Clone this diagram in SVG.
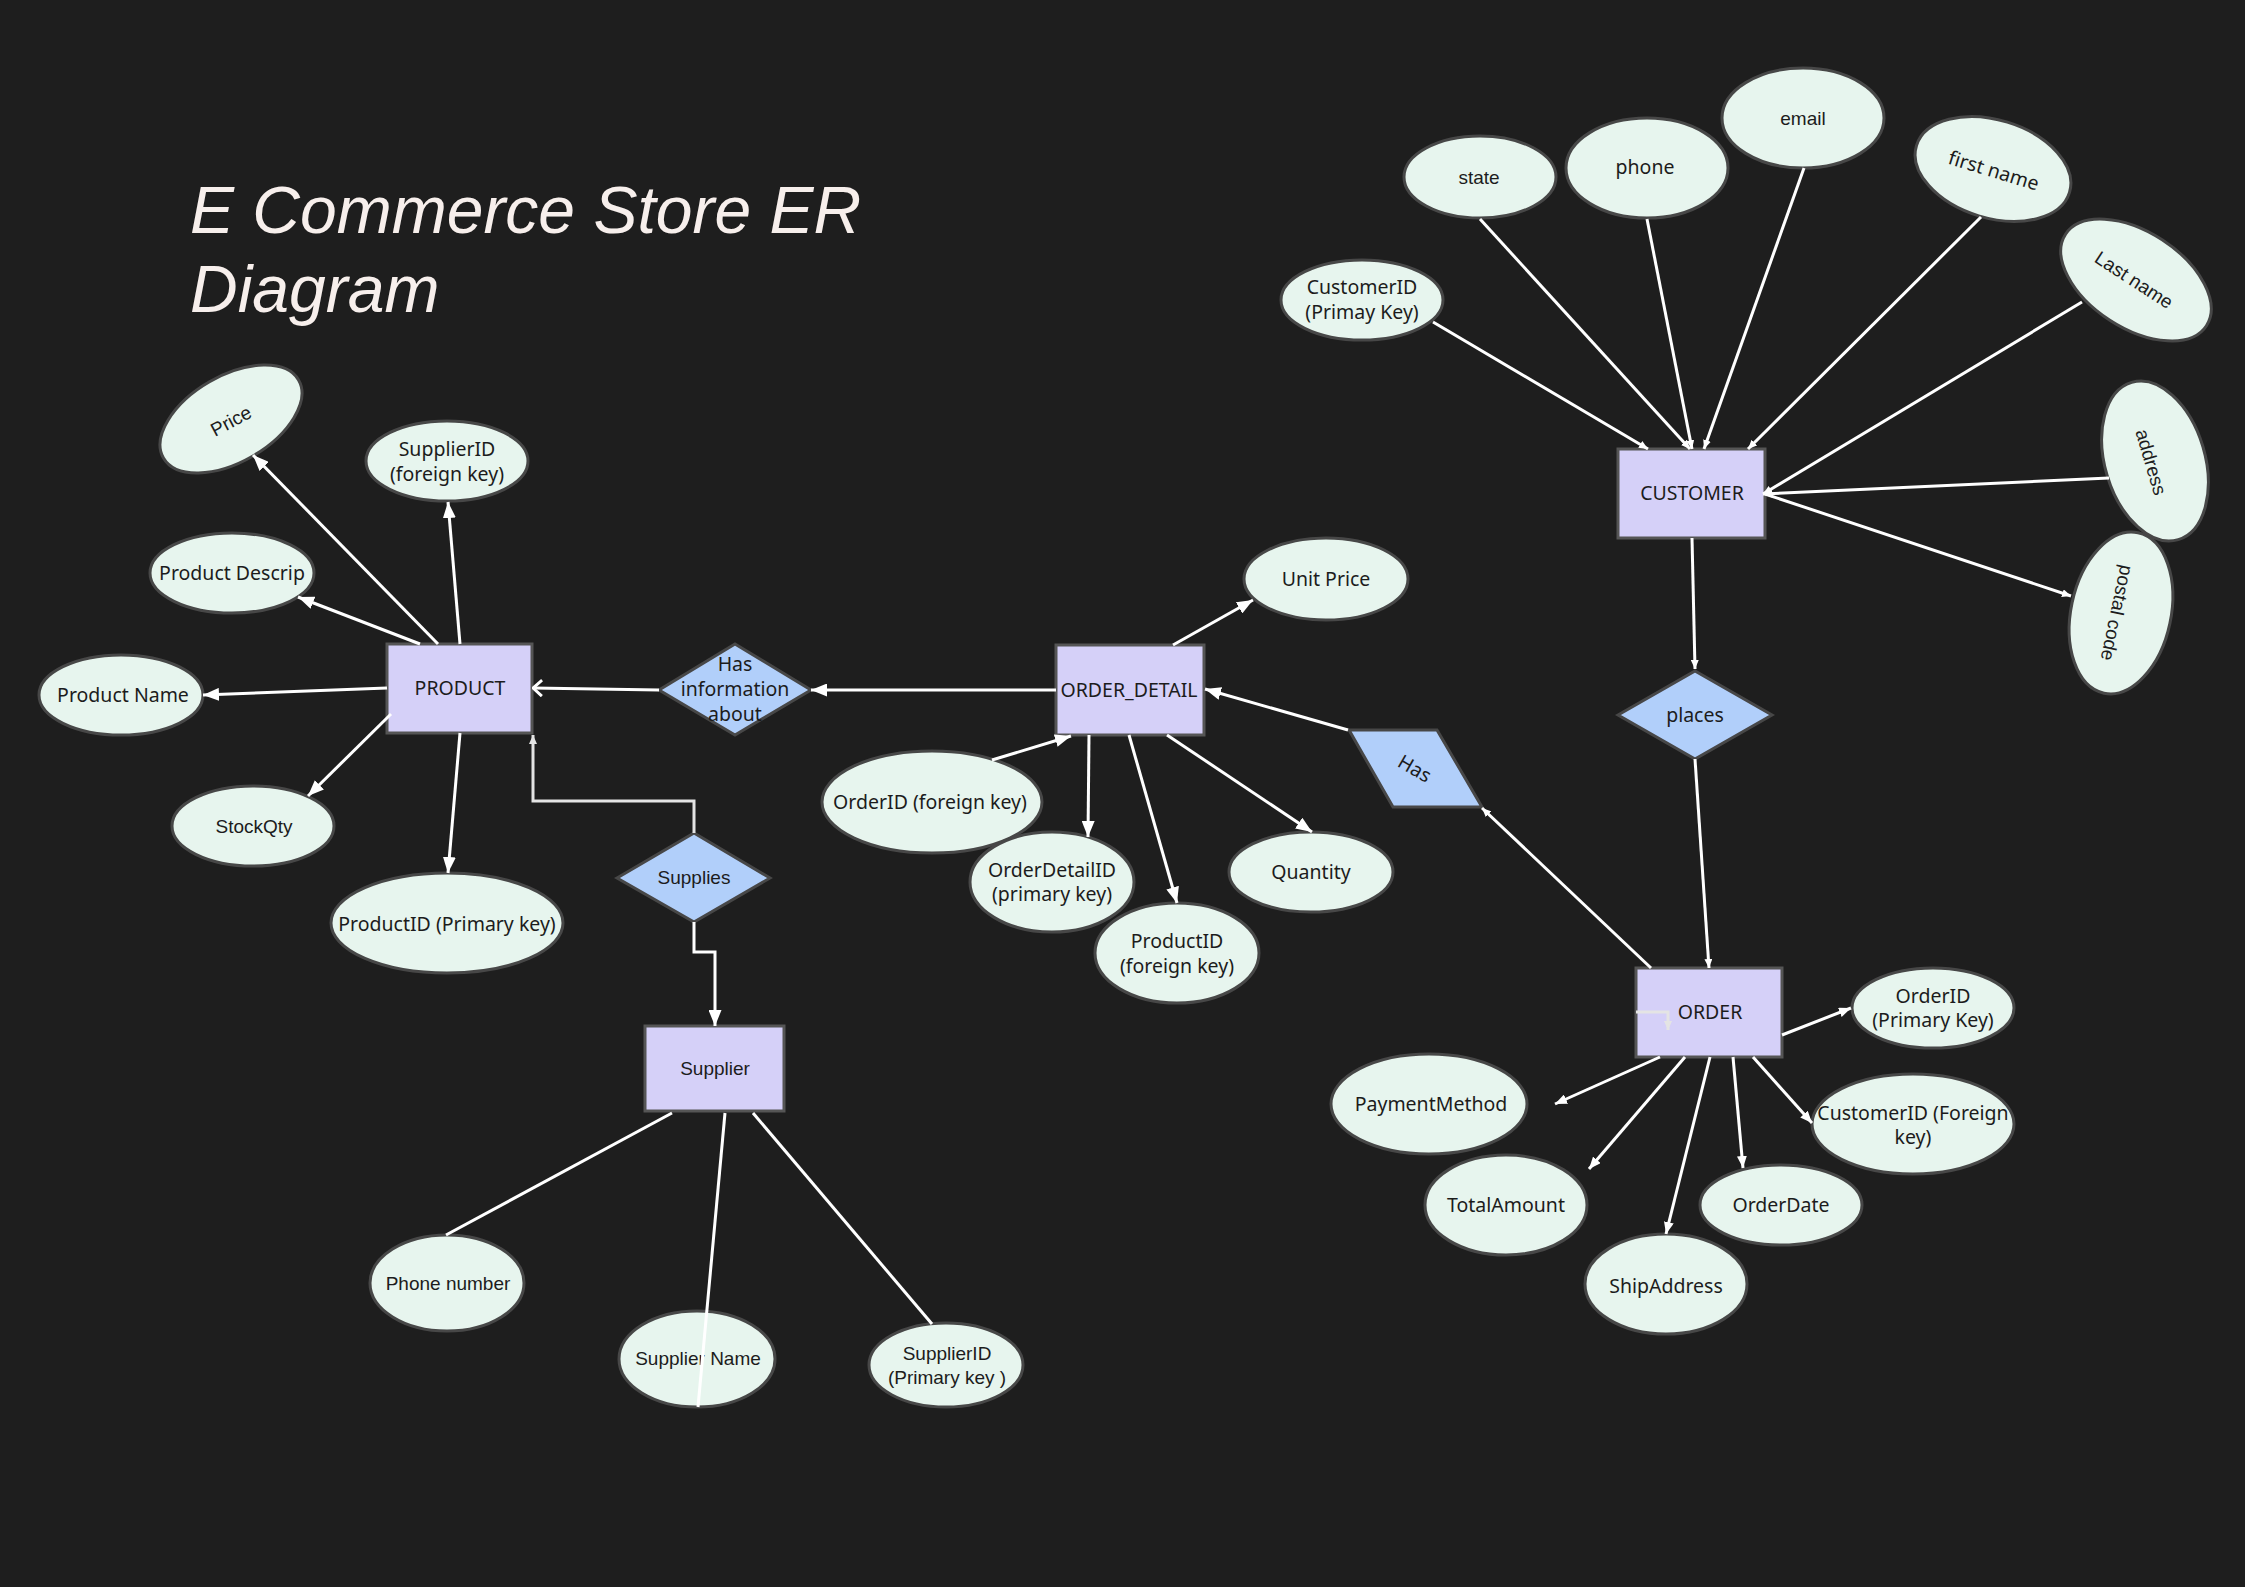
<svg xmlns="http://www.w3.org/2000/svg" width="2245" height="1587" viewBox="0 0 2245 1587">
<style>
.bg{fill:#1e1e1e}
.title{font-family:"Liberation Sans",Arial,sans-serif;font-style:italic;font-size:66px;fill:#f7efec}
.attr{fill:#e7f5ee;stroke:#474747;stroke-width:3}
.ent{fill:#d5d0f8;stroke:#555555;stroke-width:3}
.rel{fill:#b1cffa;stroke:#474747;stroke-width:3}
.t{font-family:"Noto Sans","Open Sans",sans-serif;font-size:19.5px;fill:#1c1c1c;text-anchor:middle;dominant-baseline:central}
.a{font-family:"Liberation Sans",Arial,sans-serif;font-size:19px;fill:#1c1c1c;text-anchor:middle;dominant-baseline:central}
#connectors line,#connectors path{stroke:#ffffff;stroke-width:3;fill:none}
#connectors .g{stroke:#e4e4e4}
</style>
<defs>
<marker id="aL" viewBox="0 0 16 13" refX="16" refY="6.5" markerWidth="16" markerHeight="13" orient="auto" markerUnits="userSpaceOnUse"><path d="M0,0 L16,6.5 L0,13 z" fill="#ffffff"/></marker>
<marker id="aM" viewBox="0 0 12 10" refX="12" refY="5" markerWidth="12" markerHeight="10" orient="auto" markerUnits="userSpaceOnUse"><path d="M0,0 L12,5 L0,10 z" fill="#ffffff"/></marker>
<marker id="aS" viewBox="0 0 9 8" refX="9" refY="4" markerWidth="9" markerHeight="8" orient="auto" markerUnits="userSpaceOnUse"><path d="M0,0 L9,4 L0,8 z" fill="#ffffff"/></marker>
<marker id="aG" viewBox="0 0 9 8" refX="9" refY="4" markerWidth="9" markerHeight="8" orient="auto" markerUnits="userSpaceOnUse"><path d="M0,0 L9,4 L0,8 z" fill="#e4e4e4"/></marker>
<marker id="aO" viewBox="0 0 11 18" refX="10" refY="9" markerWidth="11" markerHeight="18" orient="auto" markerUnits="userSpaceOnUse"><path d="M1,1 L10,9 L1,17" fill="none" stroke="#ffffff" stroke-width="3"/></marker>
</defs>
<rect class="bg" x="0" y="0" width="2245" height="1587"/>
<g id="title">
<text class="title" x="190" y="233">E Commerce Store ER</text>
<text class="title" x="190" y="312">Diagram</text>
</g>
<g id="entities">
<g id="product"><rect class="ent" x="387" y="644" width="145" height="89"/><text class="t" x="460" y="687">PRODUCT</text></g>
<g id="order_detail"><rect class="ent" x="1056" y="645" width="148" height="90"/><text class="t" x="1129" y="689">ORDER_DETAIL</text></g>
<g id="customer"><rect class="ent" x="1618" y="449" width="147" height="89"/><text class="t" x="1692" y="492">CUSTOMER</text></g>
<g id="order"><rect class="ent" x="1636" y="968" width="146" height="89"/><text class="t" x="1710" y="1011">ORDER</text></g>
<g id="supplier"><rect class="ent" x="645" y="1026" width="139" height="85"/><text class="a" x="715" y="1068">Supplier</text></g>
</g>
<g id="relationships">
<g id="has_information_about"><polygon class="rel" points="659,690 735,644 811,690 735,735"/><text class="t" x="735"><tspan x="735" y="663">Has</tspan><tspan x="735" y="688">information</tspan><tspan x="735" y="713">about</tspan></text></g>
<g id="supplies"><polygon class="rel" points="617,878 694,833 770,878 694,922"/><text class="a" x="694" y="877">Supplies</text></g>
<g id="places"><polygon class="rel" points="1618,715 1695,671 1772,715 1695,759"/><text class="t" x="1695" y="714">places</text></g>
<g id="has"><polygon class="rel" points="1349,730 1437,730 1482,807 1393,807"/><text class="t" transform="translate(1415,768) rotate(30)" x="0" y="0">Has</text></g>
</g>
<g id="attributes">
<g id="price"><ellipse class="attr" cx="0" cy="0" rx="78" ry="43" transform="translate(231,419) rotate(-30)"/><text class="a" transform="translate(231,421) rotate(-28)" x="0" y="0">Price</text></g>
<g id="supplierid_fk"><ellipse class="attr" cx="447" cy="461" rx="81" ry="40"/><text class="t"><tspan x="447" y="448">SupplierID</tspan><tspan x="447" y="473">(foreign key)</tspan></text></g>
<g id="product_descrip"><ellipse class="attr" cx="232" cy="573" rx="82" ry="40"/><text class="t" x="232" y="572">Product Descrip</text></g>
<g id="product_name"><ellipse class="attr" cx="121" cy="695" rx="82" ry="40"/><text class="t" x="123" y="694">Product Name</text></g>
<g id="stockqty"><ellipse class="attr" cx="253" cy="826" rx="81" ry="40"/><text class="a" x="254" y="826">StockQty</text></g>
<g id="productid_pk"><ellipse class="attr" cx="447" cy="923" rx="116" ry="50"/><text class="t" x="447" y="923">ProductID (Primary key)</text></g>
<g id="unit_price"><ellipse class="attr" cx="1326" cy="579" rx="82" ry="41"/><text class="t" x="1326" y="578">Unit Price</text></g>
<g id="orderid_fk"><ellipse class="attr" cx="932" cy="802" rx="110" ry="51"/><text class="t" x="930" y="801">OrderID (foreign key)</text></g>
<g id="orderdetailid_pk"><ellipse class="attr" cx="1052" cy="882" rx="82" ry="50"/><text class="t"><tspan x="1052" y="869">OrderDetailID</tspan><tspan x="1052" y="893">(primary key)</tspan></text></g>
<g id="productid_fk"><ellipse class="attr" cx="1177" cy="953" rx="82" ry="50"/><text class="t"><tspan x="1177" y="940">ProductID</tspan><tspan x="1177" y="965">(foreign key)</tspan></text></g>
<g id="quantity"><ellipse class="attr" cx="1311" cy="872" rx="82" ry="40"/><text class="t" x="1311" y="871">Quantity</text></g>
<g id="customerid_pk"><ellipse class="attr" cx="1362" cy="300" rx="81" ry="40"/><text class="t"><tspan x="1362" y="286">CustomerID</tspan><tspan x="1362" y="311">(Primay Key)</tspan></text></g>
<g id="state"><ellipse class="attr" cx="1480" cy="177" rx="76" ry="41"/><text class="a" x="1479" y="177">state</text></g>
<g id="phone"><ellipse class="attr" cx="1647" cy="168" rx="81" ry="50"/><text class="t" x="1645" y="166">phone</text></g>
<g id="email"><ellipse class="attr" cx="1803" cy="118" rx="81" ry="50"/><text class="a" x="1803" y="118">email</text></g>
<g id="first_name"><ellipse class="attr" cx="0" cy="0" rx="80" ry="49" transform="translate(1993,169) rotate(17)"/><text class="t" transform="translate(1994,170) rotate(17)" x="0" y="0">first name</text></g>
<g id="last_name"><ellipse class="attr" cx="0" cy="0" rx="84" ry="48" transform="translate(2136,280) rotate(33)"/><text class="a" transform="translate(2134,280) rotate(33)" x="0" y="0">Last name</text></g>
<g id="address"><ellipse class="attr" cx="0" cy="0" rx="82" ry="50" transform="translate(2155,461) rotate(73.5)"/><text class="a" transform="translate(2151,462) rotate(73.5)" x="0" y="0">address</text></g>
<g id="postal_code"><ellipse class="attr" cx="0" cy="0" rx="82" ry="50" transform="translate(2121,613) rotate(102)"/><text class="a" transform="translate(2117,613) rotate(102)" x="0" y="0">postal code</text></g>
<g id="orderid_pk"><ellipse class="attr" cx="1933" cy="1008" rx="81" ry="40"/><text class="t"><tspan x="1933" y="995">OrderID</tspan><tspan x="1933" y="1019">(Primary Key)</tspan></text></g>
<g id="customerid_fk"><ellipse class="attr" cx="1913" cy="1124" rx="101" ry="50"/><text class="t"><tspan x="1913" y="1112">CustomerID (Foreign</tspan><tspan x="1913" y="1136">key)</tspan></text></g>
<g id="orderdate"><ellipse class="attr" cx="1781" cy="1205" rx="81" ry="40"/><text class="t" x="1781" y="1204">OrderDate</text></g>
<g id="shipaddress"><ellipse class="attr" cx="1666" cy="1284" rx="81" ry="50"/><text class="t" x="1666" y="1285">ShipAddress</text></g>
<g id="totalamount"><ellipse class="attr" cx="1506" cy="1205" rx="81" ry="50"/><text class="t" x="1506" y="1204">TotalAmount</text></g>
<g id="paymentmethod"><ellipse class="attr" cx="1429" cy="1104" rx="98" ry="50"/><text class="t" x="1431" y="1103">PaymentMethod</text></g>
<g id="phone_number"><ellipse class="attr" cx="447" cy="1283" rx="77" ry="48"/><text class="a" x="448" y="1283">Phone number</text></g>
<g id="supplier_name"><ellipse class="attr" cx="697" cy="1359" rx="78" ry="48"/><text class="a" x="698" y="1358">Supplier Name</text></g>
<g id="supplierid_pk"><ellipse class="attr" cx="946" cy="1365" rx="77" ry="42"/><text class="a"><tspan x="947" y="1353">SupplierID</tspan><tspan x="947" y="1377">(Primary key )</tspan></text></g>
</g>
<g id="connectors">
<line x1="438" y1="644" x2="253" y2="455" marker-end="url(#aL)"/>
<line x1="460" y1="644" x2="448" y2="502" marker-end="url(#aL)"/>
<line x1="420" y1="644" x2="298" y2="597" marker-end="url(#aL)"/>
<line x1="387" y1="688" x2="203" y2="695" marker-end="url(#aL)"/>
<line x1="391" y1="714" x2="308" y2="796" marker-end="url(#aL)"/>
<line x1="460" y1="733" x2="448" y2="873" marker-end="url(#aL)"/>
<line x1="659" y1="690" x2="533" y2="688" marker-end="url(#aO)"/>
<line x1="1056" y1="690" x2="811" y2="690" marker-end="url(#aL)"/>
<path class="g" d="M694,833 V801 H533 V735" marker-end="url(#aG)"/>
<path d="M694,922 V952 H715 V1026" marker-end="url(#aL)"/>
<line x1="672" y1="1113" x2="446" y2="1235"/>
<line x1="725" y1="1113" x2="698" y2="1407"/>
<line x1="753" y1="1113" x2="932" y2="1324"/>
<line x1="1173" y1="645" x2="1253" y2="600" marker-end="url(#aL)"/>
<line x1="992" y1="760" x2="1071" y2="736" marker-end="url(#aL)"/>
<line x1="1089" y1="735" x2="1088" y2="837" marker-end="url(#aL)"/>
<line x1="1129" y1="735" x2="1177" y2="903" marker-end="url(#aL)"/>
<line x1="1167" y1="735" x2="1312" y2="832" marker-end="url(#aL)"/>
<line x1="1348" y1="730" x2="1205" y2="689" marker-end="url(#aL)"/>
<line x1="1651" y1="968" x2="1482" y2="808" marker-end="url(#aS)"/>
<line x1="1692" y1="538" x2="1695" y2="669" marker-end="url(#aS)"/>
<line x1="1695" y1="759" x2="1709" y2="968" marker-end="url(#aS)"/>
<line x1="1433" y1="322" x2="1648" y2="449" marker-end="url(#aS)"/>
<line x1="1480" y1="219" x2="1690" y2="449" marker-end="url(#aS)"/>
<line x1="1647" y1="219" x2="1692" y2="449" marker-end="url(#aS)"/>
<line x1="1804" y1="168" x2="1704" y2="449" marker-end="url(#aS)"/>
<line x1="1981" y1="217" x2="1748" y2="449" marker-end="url(#aS)"/>
<line x1="2082" y1="302" x2="1763" y2="494" marker-end="url(#aS)"/>
<line x1="2109" y1="478" x2="1763" y2="494" marker-end="url(#aS)"/>
<line x1="1765" y1="494" x2="2071" y2="596" marker-end="url(#aS)"/>
<line x1="1782" y1="1035" x2="1851" y2="1008" marker-end="url(#aM)"/>
<line x1="1660" y1="1057" x2="1555" y2="1104" marker-end="url(#aM)"/>
<line x1="1685" y1="1057" x2="1589" y2="1169" marker-end="url(#aM)"/>
<line x1="1710" y1="1057" x2="1666" y2="1234" marker-end="url(#aM)"/>
<line x1="1733" y1="1057" x2="1743" y2="1168" marker-end="url(#aM)"/>
<line x1="1753" y1="1057" x2="1812" y2="1123" marker-end="url(#aM)"/>
<path class="g" d="M1636,1012 H1668 V1030" marker-end="url(#aG)"/>
</g>
</svg>
